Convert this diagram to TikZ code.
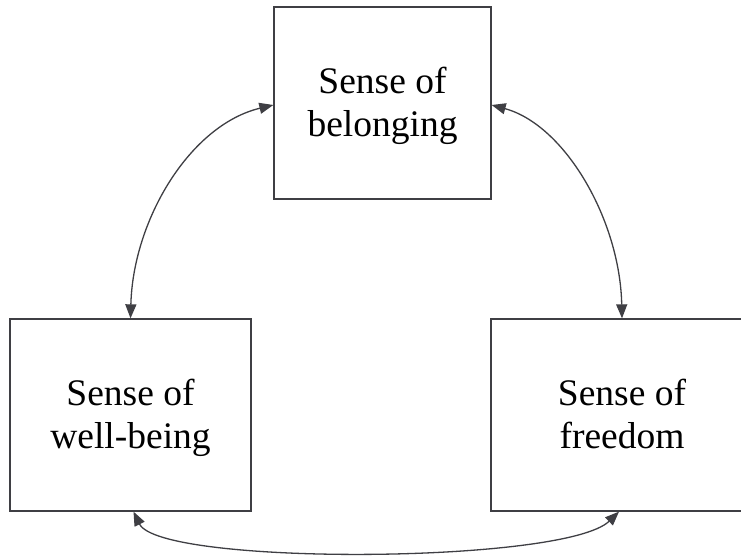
\documentclass[tikz,border=0pt]{standalone}
\usepackage{fontspec}
\setmainfont{Liberation Serif}
\usetikzlibrary{arrows.meta}
\definecolor{edgegray}{HTML}{3F3F44}
\newcommand{\toprule}{\rule{0pt}{31.5pt}}
\newcommand{\botrule}{\rule[-8.5pt]{0pt}{0pt}}
\tikzset{
  box/.style={draw=edgegray, line width=1.3pt, fill=white, inner sep=0pt, minimum height=192pt,
    align=center, font=\fontsize{37.5}{43}\selectfont, text=black},
  link/.style={draw=edgegray, line width=1.3pt,
    {Triangle[length=14pt,width=11pt]}-{Triangle[length=14pt,width=11pt]}},
}
\begin{document}
\begin{tikzpicture}[x=1pt,y=-1pt]
\clip (0,0) rectangle (741,559);
\fill[white] (0,0) rectangle (741,559);
\node[box, minimum width=217pt] (T) at (382.5,103) {\toprule Sense of\\belonging\botrule};
\node[box, minimum width=241pt] (L) at (130.5,415) {\toprule Sense of\\well-being\botrule};
\node[box, minimum width=262pt] (R) at (622,415) {\toprule Sense of\\freedom\botrule};
\draw[link] (L.north) .. controls (133,220) and (190,125) .. ([yshift=-2pt]T.west);
\draw[link] (R.north) .. controls (620,220) and (565,125) .. ([yshift=-2pt]T.east);
\draw[link] ([xshift=3pt]L.south) .. controls (160,566) and (565,564) .. ([xshift=-3pt]R.south);
\end{tikzpicture}
\end{document}
